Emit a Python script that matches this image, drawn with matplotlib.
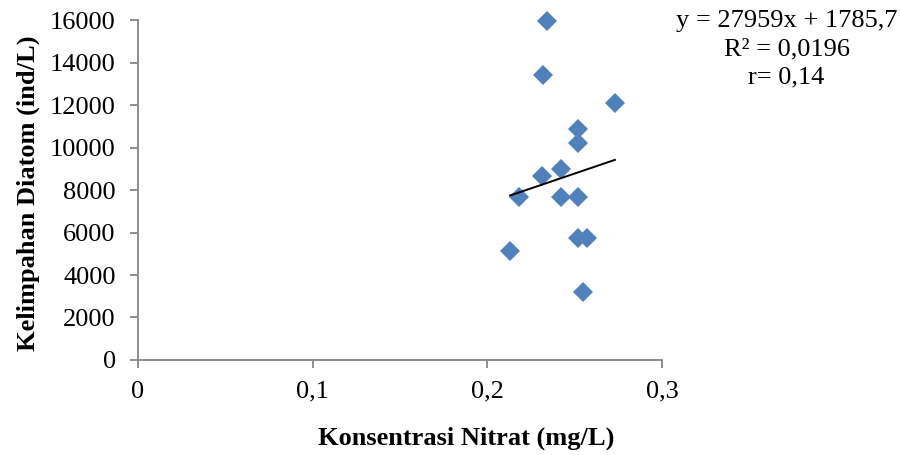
import matplotlib
matplotlib.use("Agg")
import matplotlib.pyplot as plt
import numpy as np

# nitrate concentration (mg/L) and diatom abundance (ind/L)
nitrat = [0.234, 0.232, 0.273, 0.252, 0.252, 0.242, 0.231, 0.218,
          0.242, 0.252, 0.252, 0.257, 0.213, 0.255]
diatom = [15950, 13400, 12110, 10860, 10200, 8990, 8670, 7660,
          7660, 7660, 5760, 5760, 5110, 3200]

# trendline coefficients as printed on the chart
slope = 27959
intercept = 1785.7
eq_lines = ["y = 27959x + 1785,7", "R\u00b2 = 0,0196", "r= 0,14"]

xticks = [0, 0.1, 0.2, 0.3]
xtick_labels = ["0", "0,1", "0,2", "0,3"]
yticks = [0, 2000, 4000, 6000, 8000, 10000, 12000, 14000, 16000]

plt.rcParams['font.family'] = ['Liberation Serif', 'DejaVu Serif']

fig = plt.figure(figsize=(9, 4.55), dpi=100)
ax = fig.add_axes([0.1533, 0.2088, 0.5823, 0.7472])

ax.plot(nitrat, diatom, 'D', color='#4F81BD', markersize=10.5,
        markeredgewidth=0, clip_on=False, zorder=3)

# linear trendline between min and max x
x_fit = np.array([min(nitrat), max(nitrat)])
ax.plot(x_fit, slope * x_fit + intercept, color='black', linewidth=1.4, zorder=4)

ax.set_xlim(0, 0.3)
ax.set_ylim(0, 16000)
ax.set_xticks(xticks)
ax.set_xticklabels(xtick_labels)
ax.set_yticks(yticks)

for side in ['top', 'right']:
    ax.spines[side].set_visible(False)
for side in ['left', 'bottom']:
    ax.spines[side].set_color('#868686')
    ax.spines[side].set_linewidth(1.3)
ax.tick_params(axis='both', colors='#868686', labelcolor='black', labelsize=19,
               length=6, width=1.3, direction='out')
ax.tick_params(axis='x', pad=9)
ax.tick_params(axis='y', pad=10)

ax.set_xlabel('Konsentrasi Nitrat (mg/L)', fontsize=19, fontweight='bold')
ax.set_ylabel('Kelimpahan Diatom (ind/L)', fontsize=19, fontweight='bold')
ax.xaxis.set_label_coords(0.626, -0.195)
ax.yaxis.set_label_coords(-0.187, 0.49)

fig.text(0.874, 0.978, "\n".join(eq_lines), ha='center', va='top', fontsize=19,
         linespacing=1.38)

fig.savefig('out.png', dpi=100)
